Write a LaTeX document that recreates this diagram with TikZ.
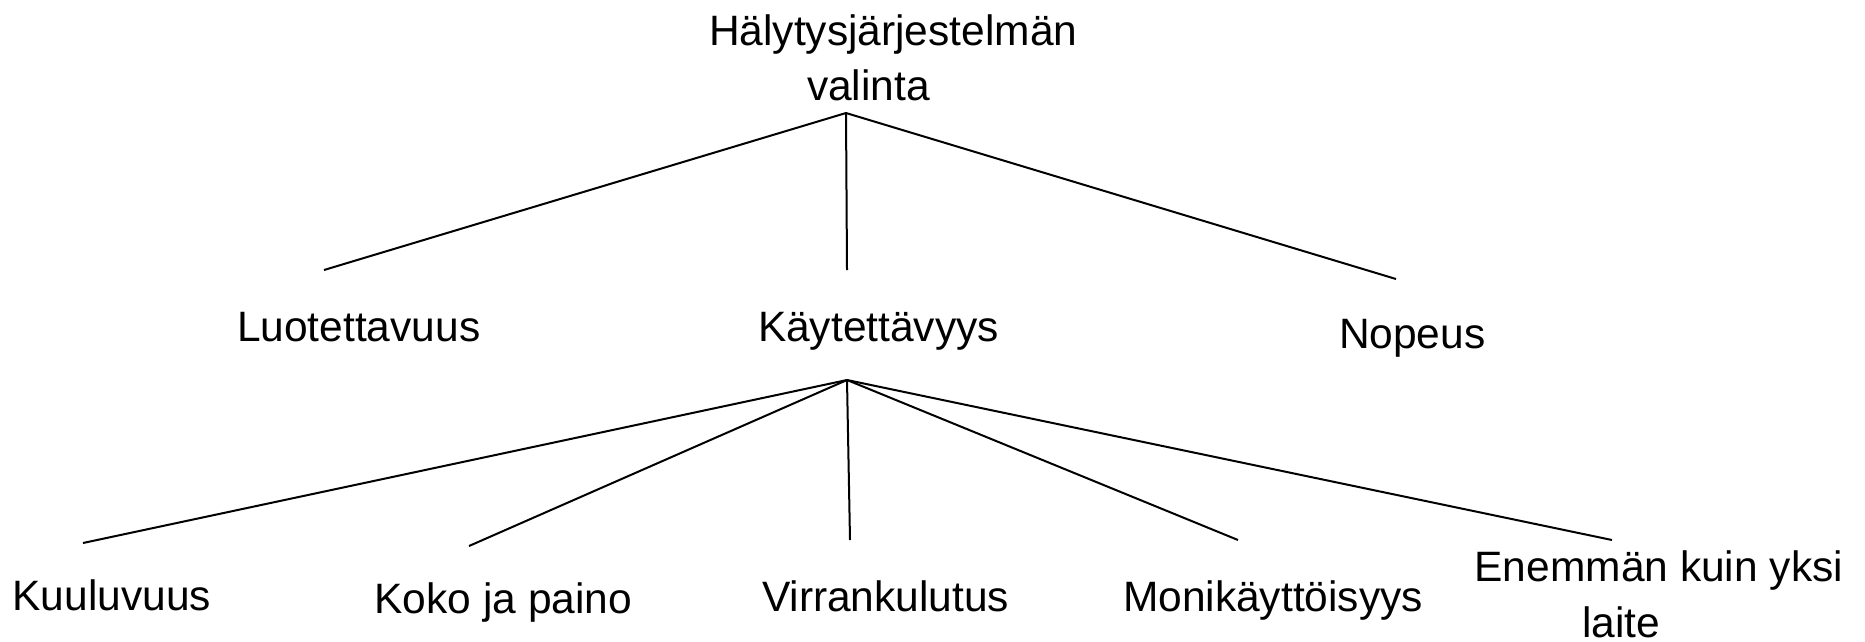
\documentclass[tikz,border=0pt]{standalone}
\usepackage{fontspec}
\setmainfont{Liberation Sans}
\begin{document}
\begin{tikzpicture}[x=1pt,y=-1pt,
  lbl/.style={inner sep=0pt,outer sep=0pt,anchor=base west,font=\fontsize{42.5}{55}\selectfont},
  conn/.style={line width=2pt,black}]
\useasboundingbox (0,0) rectangle (1865,641);
% text nodes (base anchor of a multi-line node = baseline of its last line)
\node[lbl,align=left] (root) at (709,100) {Hälytysjärjestelmän\\\hspace*{98pt}valinta};
\node[lbl] (luo) at (237,341) {Luotettavuus};
\node[lbl] (kay) at (758,341) {Käytettävyys};
\node[lbl] (nop) at (1339,348) {Nopeus};
\node[lbl] (kuu) at (12.5,610) {Kuuluvuus};
\node[lbl] (kok) at (374.5,613) {Koko ja paino};
\node[lbl] (vir) at (762,611) {Virrankulutus};
\node[lbl] (mon) at (1123,611) {Monikäyttöisyys};
\node[lbl,align=left,font=\fontsize{42.5}{56}\selectfont] (ene) at (1474.6,637) {Enemmän kuin yksi\\\hspace*{107.5pt}laite};
% connector points
\coordinate (a1) at (846,113);
\coordinate (e1) at (324,270);
\coordinate (e2) at (847,270);
\coordinate (e3) at (1396,279);
\coordinate (a2) at (847,380);
\coordinate (f1) at (83,543);
\coordinate (f2) at (469,546);
\coordinate (f3) at (850,540);
\coordinate (f4) at (1238,540);
\coordinate (f5) at (1612,540);
% connectors
\draw[conn] (a1) -- (e1);
\draw[conn] (a1) -- (e2);
\draw[conn] (a1) -- (e3);
\draw[conn] (a2) -- (f1);
\draw[conn] (a2) -- (f2);
\draw[conn] (a2) -- (f3);
\draw[conn] (a2) -- (f4);
\draw[conn] (a2) -- (f5);
\end{tikzpicture}
\end{document}
